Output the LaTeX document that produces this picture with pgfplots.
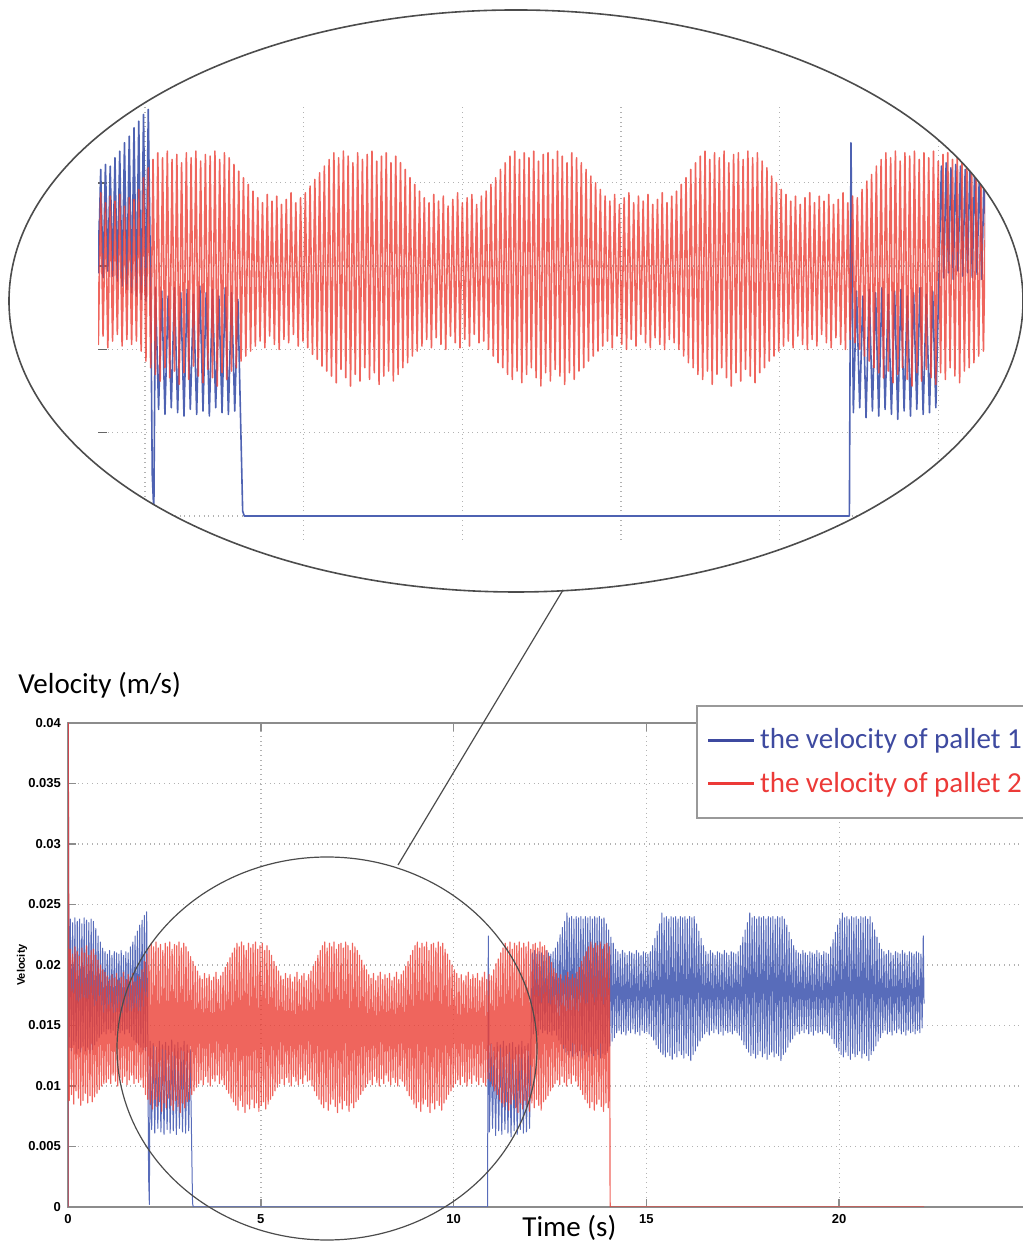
\documentclass[border=0pt]{standalone}
\usepackage{pgfplots}
\pgfplotsset{compat=1.18}
\usepackage{pgfplotstable}
\usepackage{fontspec}
\setmainfont{Carlito}
\newfontfamily\helv{Liberation Sans}
\definecolor{pblue}{RGB}{78,98,178}
\definecolor{mblue}{RGB}{88,108,186}
\definecolor{pred}{RGB}{235,62,52}
\definecolor{lblue}{RGB}{62,74,160}
\definecolor{lred}{RGB}{236,58,56}
\definecolor{axgray}{RGB}{140,140,140}

\pgfplotstableread[row sep=\\]{
t v\\
0 0\\ 0.006 40\\
0.03 8.8\\ 0.06 21.3\\ 0.09 9.3\\ 0.12 20.9\\ 0.15 8.5\\ 0.18 21.5\\ 0.21 9.6\\ 0.24 21.1\\ 0.27 9.0\\ 0.30 20.7\\
0.33 8.4\\ 0.36 21.4\\ 0.39 8.8\\ 0.42 21.0\\ 0.45 9.4\\ 0.48 21.6\\ 0.51 8.6\\ 0.54 20.8\\ 0.57 9.2\\ 0.60 21.2\\
0.63 8.7\\ 0.66 21.3\\ 0.69 9.1\\ 0.72 20.8\\ 0.75 9.4\\ 0.78 20.4\\ 0.81 9.7\\ 0.84 20.0\\ 0.87 10.0\\ 0.90 19.6\\
0.93 10.2\\ 0.96 19.4\\ 0.99 10.3\\ 1.02 19.1\\ 1.05 10.6\\ 1.08 18.8\\ 1.11 10.2\\ 1.14 19.2\\ 1.17 10.9\\ 1.20 18.9\\
1.23 10.4\\ 1.26 19.3\\ 1.29 10.0\\ 1.32 18.7\\ 1.35 10.7\\ 1.38 19.0\\ 1.41 10.3\\ 1.44 19.4\\ 1.47 10.8\\ 1.50 18.8\\
1.53 10.1\\ 1.56 19.2\\ 1.59 10.5\\ 1.62 18.9\\ 1.65 10.9\\ 1.68 19.3\\ 1.71 10.2\\ 1.74 18.6\\ 1.77 10.6\\ 1.80 19.1\\
1.83 10.3\\ 1.86 19.0\\ 1.89 10.5\\ 1.92 19.6\\ 1.95 9.9\\ 1.98 20.3\\ 2.01 9.3\\ 2.04 20.9\\ 2.07 8.9\\ 2.10 21.4\\
2.13 8.5\\ 2.16 21.8\\ 2.19 8.1\\ 2.22 21.5\\ 2.25 8.9\\ 2.28 21.9\\ 2.31 8.3\\ 2.34 21.4\\ 2.37 8.7\\ 2.40 21.7\\
2.43 7.9\\ 2.46 21.2\\ 2.49 8.6\\ 2.52 21.8\\ 2.55 8.2\\ 2.58 21.5\\ 2.61 9.0\\ 2.64 21.9\\ 2.67 8.4\\ 2.70 21.3\\
2.73 8.0\\ 2.76 21.7\\ 2.79 8.8\\ 2.82 21.6\\ 2.85 8.3\\ 2.88 21.9\\ 2.91 7.8\\ 2.94 21.4\\ 2.97 8.6\\ 3.00 21.8\\
3.03 8.2\\ 3.06 21.5\\ 3.09 8.7\\ 3.12 21.1\\ 3.15 8.9\\ 3.18 20.7\\ 3.21 9.3\\ 3.24 20.3\\ 3.27 9.6\\ 3.30 19.9\\
3.33 9.9\\ 3.36 19.5\\ 3.39 10.2\\ 3.42 19.1\\ 3.45 10.5\\ 3.48 18.8\\ 3.51 10.1\\ 3.54 19.3\\ 3.57 10.8\\ 3.60 18.9\\
3.63 10.3\\ 3.66 19.2\\ 3.69 10.0\\ 3.72 18.7\\ 3.75 10.6\\ 3.78 19.0\\ 3.81 10.4\\ 3.84 19.4\\ 3.87 10.9\\ 3.90 18.8\\
3.93 10.2\\ 3.96 19.1\\ 3.99 10.5\\ 4.02 19.4\\ 4.05 10.1\\ 4.08 19.8\\ 4.11 9.7\\ 4.14 20.2\\ 4.17 9.4\\ 4.20 20.6\\
4.23 9.0\\ 4.26 21.0\\ 4.29 8.7\\ 4.32 21.4\\ 4.35 8.4\\ 4.38 21.8\\ 4.41 8.0\\ 4.44 21.5\\ 4.47 8.8\\ 4.50 21.9\\
4.53 8.3\\ 4.56 21.6\\ 4.59 7.8\\ 4.62 21.2\\ 4.65 8.5\\ 4.68 21.8\\ 4.71 8.1\\ 4.74 21.4\\ 4.77 8.9\\ 4.80 21.7\\
4.83 8.2\\ 4.86 21.9\\ 4.89 8.6\\ 4.92 21.3\\ 4.95 7.9\\ 4.98 21.6\\ 5.01 8.4\\ 5.04 21.8\\ 5.07 8.7\\ 5.10 21.2\\
5.13 8.1\\ 5.16 21.6\\ 5.19 8.5\\ 5.22 21.2\\ 5.25 8.9\\ 5.28 20.8\\ 5.31 9.2\\ 5.34 20.3\\ 5.37 9.6\\ 5.40 19.9\\
5.43 9.9\\ 5.46 19.5\\ 5.49 10.2\\ 5.52 19.1\\ 5.55 10.6\\ 5.58 18.8\\ 5.61 10.1\\ 5.64 19.3\\ 5.67 10.7\\ 5.70 18.9\\
5.73 10.3\\ 5.76 19.2\\ 5.79 10.0\\ 5.82 18.6\\ 5.85 10.8\\ 5.88 19.0\\ 5.91 10.4\\ 5.94 19.4\\ 5.97 10.1\\ 6.00 18.8\\
6.03 10.6\\ 6.06 19.1\\ 6.09 10.2\\ 6.12 19.3\\ 6.15 10.9\\ 6.18 18.7\\ 6.21 10.4\\ 6.24 19.2\\ 6.27 10.5\\ 6.30 19.5\\
6.33 10.0\\ 6.36 19.9\\ 6.39 9.6\\ 6.42 20.3\\ 6.45 9.2\\ 6.48 20.8\\ 6.51 8.9\\ 6.54 21.2\\ 6.57 8.5\\ 6.60 21.6\\
6.63 8.2\\ 6.66 21.9\\ 6.69 8.7\\ 6.72 21.4\\ 6.75 8.0\\ 6.78 21.8\\ 6.81 8.5\\ 6.84 21.5\\ 6.87 8.9\\ 6.90 21.9\\
6.93 8.3\\ 6.96 21.3\\ 6.99 7.8\\ 7.02 21.7\\ 7.05 8.6\\ 7.08 21.8\\ 7.11 8.1\\ 7.14 21.4\\ 7.17 8.8\\ 7.20 21.9\\
7.23 8.4\\ 7.26 21.6\\ 7.29 7.9\\ 7.32 21.2\\ 7.35 8.6\\ 7.38 21.8\\ 7.41 8.2\\ 7.44 21.5\\ 7.47 8.7\\ 7.50 21.2\\
7.53 8.9\\ 7.56 20.8\\ 7.59 9.3\\ 7.62 20.4\\ 7.65 9.6\\ 7.68 20.0\\ 7.71 9.9\\ 7.74 19.6\\ 7.77 10.2\\ 7.80 19.2\\
7.83 10.5\\ 7.86 18.9\\ 7.89 10.1\\ 7.92 19.3\\ 7.95 10.8\\ 7.98 18.7\\ 8.01 10.3\\ 8.04 19.1\\ 8.07 10.0\\ 8.10 19.4\\
8.13 10.6\\ 8.16 18.8\\ 8.19 10.2\\ 8.22 19.2\\ 8.25 10.9\\ 8.28 18.9\\ 8.31 10.4\\ 8.34 19.3\\ 8.37 10.1\\ 8.40 18.7\\
8.43 10.7\\ 8.46 19.0\\ 8.49 10.3\\ 8.52 19.4\\ 8.55 10.0\\ 8.58 18.8\\ 8.61 10.6\\ 8.64 19.2\\ 8.67 10.4\\ 8.70 19.5\\
8.73 10.0\\ 8.76 19.9\\ 8.79 9.6\\ 8.82 20.3\\ 8.85 9.2\\ 8.88 20.8\\ 8.91 8.9\\ 8.94 21.2\\ 8.97 8.5\\ 9.00 21.6\\
9.03 8.2\\ 9.06 21.9\\ 9.09 8.7\\ 9.12 21.4\\ 9.15 7.9\\ 9.18 21.8\\ 9.21 8.5\\ 9.24 21.5\\ 9.27 8.9\\ 9.30 21.9\\
9.33 8.3\\ 9.36 21.2\\ 9.39 7.8\\ 9.42 21.7\\ 9.45 8.6\\ 9.48 21.8\\ 9.51 8.1\\ 9.54 21.4\\ 9.57 8.8\\ 9.60 21.9\\
9.63 8.4\\ 9.66 21.5\\ 9.69 8.0\\ 9.72 21.8\\ 9.75 8.6\\ 9.78 21.3\\ 9.81 8.9\\ 9.84 20.9\\ 9.87 9.3\\ 9.90 20.4\\
9.93 9.6\\ 9.96 20.0\\ 9.99 9.9\\ 10.02 19.6\\ 10.05 10.2\\ 10.08 19.3\\ 10.11 10.5\\ 10.14 18.9\\ 10.17 10.1\\ 10.20 19.2\\
10.23 10.8\\ 10.26 18.7\\ 10.29 10.3\\ 10.32 19.1\\ 10.35 10.0\\ 10.38 19.4\\ 10.41 10.6\\ 10.44 18.8\\ 10.47 10.2\\ 10.50 19.2\\
10.53 10.9\\ 10.56 18.9\\ 10.59 10.4\\ 10.62 19.3\\ 10.65 10.1\\ 10.68 18.7\\ 10.71 10.7\\ 10.74 19.0\\ 10.77 10.3\\ 10.80 19.4\\
10.83 10.0\\ 10.86 18.8\\ 10.89 10.6\\ 10.92 19.2\\ 10.95 10.4\\ 10.98 19.1\\ 11.01 10.0\\ 11.04 19.6\\ 11.07 9.6\\ 11.10 20.1\\
11.13 9.3\\ 11.16 20.5\\ 11.19 8.9\\ 11.22 21.0\\ 11.25 8.6\\ 11.28 21.4\\ 11.31 8.3\\ 11.34 21.8\\ 11.37 8.7\\ 11.40 21.5\\
11.43 8.0\\ 11.46 21.9\\ 11.49 8.5\\ 11.52 21.3\\ 11.55 8.9\\ 11.58 21.8\\ 11.61 8.2\\ 11.64 21.6\\ 11.67 7.8\\ 11.70 21.9\\
11.73 8.6\\ 11.76 21.4\\ 11.79 8.1\\ 11.82 21.8\\ 11.85 8.8\\ 11.88 21.5\\ 11.91 8.3\\ 11.94 21.9\\ 11.97 7.9\\ 12.00 21.3\\
12.03 8.6\\ 12.06 21.7\\ 12.09 8.2\\ 12.12 21.8\\ 12.15 8.9\\ 12.18 21.4\\ 12.21 8.4\\ 12.24 21.9\\ 12.27 8.0\\ 12.30 21.5\\
12.33 8.7\\ 12.36 21.6\\ 12.39 8.9\\ 12.42 21.2\\ 12.45 9.2\\ 12.48 20.7\\ 12.51 9.6\\ 12.54 20.2\\ 12.57 9.9\\ 12.60 19.7\\
12.63 10.2\\ 12.66 19.3\\ 12.69 10.5\\ 12.72 18.9\\ 12.75 10.1\\ 12.78 19.2\\ 12.81 10.8\\ 12.84 18.7\\ 12.87 10.3\\ 12.90 19.1\\
12.93 10.0\\ 12.96 19.4\\ 12.99 10.6\\ 13.02 18.8\\ 13.05 10.2\\ 13.08 19.2\\ 13.11 10.9\\ 13.14 18.9\\ 13.17 10.4\\ 13.20 19.4\\
13.23 10.0\\ 13.26 19.8\\ 13.29 9.7\\ 13.32 20.3\\ 13.35 9.3\\ 13.38 20.7\\ 13.41 8.9\\ 13.44 21.1\\ 13.47 8.6\\ 13.50 21.5\\
13.53 8.2\\ 13.56 21.9\\ 13.59 8.7\\ 13.62 21.4\\ 13.65 8.0\\ 13.68 21.8\\ 13.71 8.5\\ 13.74 21.6\\ 13.77 8.9\\ 13.80 21.9\\
13.83 8.3\\ 13.86 21.3\\ 13.89 7.9\\ 13.92 21.7\\ 13.95 8.6\\ 13.98 21.8\\ 14.01 8.2\\ 14.04 21.5\\
14.06 0\\ 22.20 0\\
}\redtab

\pgfplotstableread[row sep=\\]{
t v\\
0 0\\ 0.006 40\\
0.03 13.2\\ 0.06 23.8\\ 0.09 12.9\\ 0.12 23.5\\ 0.15 13.4\\ 0.18 23.9\\ 0.21 12.7\\ 0.24 23.6\\ 0.27 13.1\\ 0.30 23.8\\
0.33 12.8\\ 0.36 23.4\\ 0.39 13.3\\ 0.42 23.9\\ 0.45 12.9\\ 0.48 23.7\\ 0.51 13.2\\ 0.54 23.5\\ 0.57 12.7\\ 0.60 23.8\\
0.63 13.0\\ 0.66 23.6\\ 0.69 13.4\\ 0.72 23.0\\ 0.75 13.7\\ 0.78 22.4\\ 0.81 14.0\\ 0.84 21.9\\ 0.87 14.3\\ 0.90 21.4\\
0.93 14.5\\ 0.96 21.1\\ 0.99 14.3\\ 1.02 20.9\\ 1.05 14.7\\ 1.08 21.2\\ 1.11 14.4\\ 1.14 20.8\\ 1.17 14.6\\ 1.20 21.1\\
1.23 14.2\\ 1.26 21.0\\ 1.29 14.8\\ 1.32 20.9\\ 1.35 14.4\\ 1.38 21.2\\ 1.41 14.6\\ 1.44 20.8\\ 1.47 14.3\\ 1.50 21.1\\
1.53 14.7\\ 1.56 21.0\\ 1.59 14.4\\ 1.62 21.5\\ 1.65 14.1\\ 1.68 21.9\\ 1.71 13.8\\ 1.74 22.4\\ 1.77 13.6\\ 1.80 22.8\\
1.83 13.4\\ 1.86 23.3\\ 1.89 13.2\\ 1.92 23.7\\ 1.95 13.0\\ 1.98 24.1\\ 2.01 12.9\\ 2.04 24.4\\ 2.07 13.6\\ 2.09 2.5\\ 2.11 0.2\\ 2.13 13.7\\
2.17 6.4\\ 2.21 13.5\\ 2.25 6.1\\ 2.29 13.2\\ 2.33 6.5\\ 2.37 13.7\\ 2.41 6.2\\ 2.45 13.4\\ 2.49 6.0\\ 2.53 13.6\\
2.57 6.4\\ 2.61 13.3\\ 2.65 6.1\\ 2.69 13.8\\ 2.73 6.3\\ 2.77 13.4\\ 2.81 6.0\\ 2.85 13.6\\ 2.89 6.5\\ 2.93 13.2\\
2.97 6.2\\ 3.01 13.7\\ 3.05 6.1\\ 3.09 13.4\\ 3.13 6.3\\ 3.17 13.0\\ 3.20 6.6\\ 3.23 0.3\\ 3.25 0\\
10.88 0\\ 10.90 22.4\\
10.93 6.2\\ 10.97 13.5\\ 11.01 6.5\\ 11.05 13.2\\ 11.09 5.9\\ 11.13 13.6\\ 11.17 6.3\\ 11.21 13.4\\ 11.25 6.0\\ 11.29 13.7\\
11.33 6.4\\ 11.37 13.3\\ 11.41 6.1\\ 11.45 13.5\\ 11.49 5.8\\ 11.53 13.6\\ 11.57 6.3\\ 11.61 13.2\\ 11.65 6.0\\ 11.69 13.4\\
11.73 6.4\\ 11.77 13.7\\ 11.81 6.1\\ 11.85 13.3\\ 11.89 6.2\\ 11.93 13.5\\ 11.97 6.5\\
12.01 14.5\\ 12.04 21.0\\ 12.07 14.3\\ 12.10 21.2\\ 12.13 14.6\\ 12.16 20.9\\ 12.19 14.2\\ 12.22 21.1\\ 12.25 14.7\\ 12.28 21.0\\
12.31 14.4\\ 12.34 20.8\\ 12.37 14.6\\ 12.40 21.2\\ 12.43 14.3\\ 12.46 21.0\\ 12.49 14.5\\ 12.52 20.9\\ 12.55 14.2\\ 12.58 21.1\\
12.61 14.6\\ 12.64 21.4\\ 12.67 14.2\\ 12.70 21.9\\ 12.73 13.8\\ 12.76 22.5\\ 12.79 13.5\\ 12.82 23.1\\ 12.85 13.1\\ 12.88 23.6\\
12.91 12.8\\ 12.94 24.3\\ 12.97 12.6\\ 13.00 23.9\\ 13.03 12.9\\ 13.06 24.0\\ 13.09 12.4\\ 13.12 23.8\\ 13.15 12.7\\ 13.18 24.0\\
13.21 12.5\\ 13.24 23.9\\ 13.27 12.9\\ 13.30 24.0\\ 13.33 12.3\\ 13.36 23.8\\ 13.39 12.6\\ 13.42 24.0\\ 13.45 12.8\\ 13.48 23.9\\
13.51 12.4\\ 13.54 24.0\\ 13.57 12.7\\ 13.60 23.8\\ 13.63 12.5\\ 13.66 24.0\\ 13.69 12.9\\ 13.72 23.9\\ 13.75 12.6\\ 13.78 24.0\\
13.81 12.3\\ 13.84 23.8\\ 13.87 12.7\\ 13.90 23.9\\ 13.93 12.6\\ 13.96 23.4\\ 13.99 12.9\\ 14.02 22.9\\ 14.05 13.3\\ 14.08 22.3\\
14.11 13.7\\ 14.14 21.8\\ 14.17 14.0\\ 14.20 21.3\\ 14.23 14.4\\ 14.26 21.1\\ 14.29 14.6\\ 14.32 20.9\\ 14.35 14.3\\ 14.38 21.2\\
14.41 14.5\\ 14.44 21.0\\ 14.47 14.2\\ 14.50 20.8\\ 14.53 14.6\\ 14.56 21.1\\ 14.59 14.4\\ 14.62 21.0\\ 14.65 14.7\\ 14.68 20.9\\
14.71 14.3\\ 14.74 21.2\\ 14.77 14.5\\ 14.80 21.0\\ 14.83 14.2\\ 14.86 20.8\\ 14.89 14.6\\ 14.92 21.1\\ 14.95 14.4\\ 14.98 21.0\\
15.01 14.5\\ 15.04 20.9\\ 15.07 14.3\\ 15.10 21.1\\ 15.13 14.1\\ 15.16 21.6\\ 15.19 13.8\\ 15.22 22.2\\ 15.25 13.4\\ 15.28 22.8\\
15.31 13.1\\ 15.34 23.4\\ 15.37 12.8\\ 15.40 24.3\\ 15.43 12.6\\ 15.46 23.9\\ 15.49 12.4\\ 15.52 24.0\\ 15.55 12.8\\ 15.58 23.8\\
15.61 12.5\\ 15.64 24.0\\ 15.67 12.2\\ 15.70 23.9\\ 15.73 12.7\\ 15.76 24.0\\ 15.79 12.4\\ 15.82 23.8\\ 15.85 12.9\\ 15.88 24.0\\
15.91 12.6\\ 15.94 23.9\\ 15.97 12.3\\ 16.00 24.0\\ 16.03 12.7\\ 16.06 23.8\\ 16.09 12.5\\ 16.12 24.0\\ 16.15 12.1\\ 16.18 23.9\\
16.21 12.6\\ 16.24 24.0\\ 16.27 12.9\\ 16.30 23.4\\ 16.33 13.3\\ 16.36 22.8\\ 16.39 13.7\\ 16.42 22.2\\ 16.45 14.0\\ 16.48 21.6\\
16.51 14.3\\ 16.54 21.1\\ 16.57 14.5\\ 16.60 20.9\\ 16.63 14.2\\ 16.66 21.2\\ 16.69 14.6\\ 16.72 21.0\\ 16.75 14.4\\ 16.78 20.8\\
16.81 14.7\\ 16.84 21.1\\ 16.87 14.3\\ 16.90 21.0\\ 16.93 14.5\\ 16.96 20.9\\ 16.99 14.2\\ 17.02 21.2\\ 17.05 14.6\\ 17.08 21.0\\
17.11 14.4\\ 17.14 20.8\\ 17.17 14.5\\ 17.20 21.1\\ 17.23 14.3\\ 17.26 21.0\\ 17.29 14.6\\ 17.32 20.9\\ 17.35 14.4\\ 17.38 21.1\\
17.41 14.2\\ 17.44 21.6\\ 17.47 13.8\\ 17.50 22.3\\ 17.53 13.4\\ 17.56 22.9\\ 17.59 13.1\\ 17.62 23.5\\ 17.65 12.8\\ 17.68 24.3\\
17.71 12.5\\ 17.74 23.9\\ 17.77 12.7\\ 17.80 24.0\\ 17.83 12.3\\ 17.86 23.8\\ 17.89 12.6\\ 17.92 24.0\\ 17.95 12.9\\ 17.98 23.9\\
18.01 12.4\\ 18.04 24.0\\ 18.07 12.7\\ 18.10 23.8\\ 18.13 12.2\\ 18.16 24.0\\ 18.19 12.6\\ 18.22 23.9\\ 18.25 12.8\\ 18.28 24.0\\
18.31 12.4\\ 18.34 23.8\\ 18.37 12.7\\ 18.40 24.0\\ 18.43 12.5\\ 18.46 23.9\\ 18.49 12.1\\ 18.52 24.0\\ 18.55 12.6\\ 18.58 23.8\\
18.61 12.8\\ 18.64 23.3\\ 18.67 13.2\\ 18.70 22.7\\ 18.73 13.6\\ 18.76 22.1\\ 18.79 13.9\\ 18.82 21.6\\ 18.85 14.2\\ 18.88 21.2\\
18.91 14.5\\ 18.94 21.0\\ 18.97 14.3\\ 19.00 20.9\\ 19.03 14.6\\ 19.06 21.2\\ 19.09 14.4\\ 19.12 21.0\\ 19.15 14.7\\ 19.18 20.8\\
19.21 14.3\\ 19.24 21.1\\ 19.27 14.5\\ 19.30 21.0\\ 19.33 14.2\\ 19.36 20.9\\ 19.39 14.6\\ 19.42 21.2\\ 19.45 14.4\\ 19.48 21.0\\
19.51 14.5\\ 19.54 20.8\\ 19.57 14.3\\ 19.60 21.1\\ 19.63 14.6\\ 19.66 21.0\\ 19.69 14.4\\ 19.72 20.9\\ 19.75 14.2\\ 19.78 21.5\\
19.81 13.9\\ 19.84 22.1\\ 19.87 13.5\\ 19.90 22.7\\ 19.93 13.2\\ 19.96 23.3\\ 19.99 12.9\\ 20.02 23.8\\ 20.05 12.6\\ 20.08 24.3\\
20.11 12.4\\ 20.14 23.9\\ 20.17 12.8\\ 20.20 24.0\\ 20.23 12.5\\ 20.26 23.8\\ 20.29 12.2\\ 20.32 24.0\\ 20.35 12.7\\ 20.38 23.9\\
20.41 12.4\\ 20.44 24.0\\ 20.47 12.6\\ 20.50 23.8\\ 20.53 12.9\\ 20.56 24.0\\ 20.59 12.3\\ 20.62 23.9\\ 20.65 12.7\\ 20.68 24.0\\
20.71 12.5\\ 20.74 23.8\\ 20.77 12.1\\ 20.80 24.0\\ 20.83 12.6\\ 20.86 23.5\\ 20.89 12.9\\ 20.92 22.9\\ 20.95 13.3\\ 20.98 22.3\\
21.01 13.7\\ 21.04 21.8\\ 21.07 14.0\\ 21.10 21.3\\ 21.13 14.4\\ 21.16 21.1\\ 21.19 14.6\\ 21.22 20.9\\ 21.25 14.3\\ 21.28 21.2\\
21.31 14.5\\ 21.34 21.0\\ 21.37 14.2\\ 21.40 20.8\\ 21.43 14.6\\ 21.46 21.1\\ 21.49 14.4\\ 21.52 21.0\\ 21.55 14.7\\ 21.58 20.9\\
21.61 14.3\\ 21.64 21.2\\ 21.67 14.5\\ 21.70 21.0\\ 21.73 14.2\\ 21.76 20.8\\ 21.79 14.6\\ 21.82 21.1\\ 21.85 14.4\\ 21.88 21.0\\
21.91 14.5\\ 21.94 20.9\\ 21.97 14.3\\ 22.00 21.1\\ 22.03 14.6\\ 22.06 21.0\\ 22.09 14.4\\ 22.12 20.9\\ 22.15 14.8\\ 22.18 22.4\\
22.20 16.8\\
}\bluetab

\begin{document}
\begin{tikzpicture}
\useasboundingbox (0pt,0pt) rectangle (511pt,622.5pt);

% ---------------- main axis ----------------
\begin{axis}[
  at={(34pt,19pt)}, anchor=south west,
  scale only axis, width=482pt, height=242pt,
  xmin=0, xmax=25, ymin=0, ymax=40,
  xtick={0,5,10,15,20}, ytick={0,5,...,40},
  yticklabels={0,0.005,0.01,0.015,0.02,0.025,0.03,0.035,0.04},
  grid=major, grid style={dotted, gray!60, line width=0.7pt},
  axis line style={axgray, line width=0.8pt},
  tick align=inside, major tick length=4pt,
  tick style={axgray, line width=0.8pt},
  ticklabel style={font=\helv\bfseries\fontsize{6.5}{7}\selectfont},
  /pgf/number format/assume math mode=true,
  ylabel={Velocity},
  ylabel style={font=\helv\bfseries\fontsize{5.5}{6}\selectfont, at={(axis description cs:-0.0477,0.5)}, anchor=center},
  xlabel={Time (s)},
  xlabel style={font=\fontsize{14.5}{16}\selectfont, inner sep=0pt, at={(axis description cs:0.471,0)}, anchor=base west, yshift=-14.5pt},
  legend image code/.code={\draw[#1] (0pt,0pt) -- (23pt,0pt);},
  legend cell align=left,
  legend style={at={(0.6515,1.0372)}, anchor=north west, draw=gray!80, line width=0.8pt, fill=white,
    font=\fontsize{14.5}{16}\selectfont, inner xsep=5pt, inner ysep=9.5pt, row sep=6pt},
]
\addplot[mblue, line width=0.5pt, line join=round, forget plot] table[x=t,y=v]{\bluetab};
\addplot[pred, line width=0.6pt, line join=round, draw opacity=0.8, forget plot] table[x=t,y=v]{\redtab};
\addlegendimage{lblue, line width=1.6pt}
\addlegendentry{\textcolor{lblue}{the velocity of pallet 1}}
\addlegendimage{lred, line width=1.6pt}
\addlegendentry{\textcolor{lred}{the velocity of pallet 2}}
\end{axis}

\node[anchor=base west, font=\fontsize{14.5}{16}\selectfont, inner sep=0pt] at (9pt,275.5pt) {Velocity (m/s)};

% ---------------- zoomed inset ----------------
\begin{scope}
\clip (258pt,472pt) ellipse [x radius=253.5pt, y radius=145.5pt];
\begin{axis}[
  at={(49pt,352.5pt)}, anchor=south west,
  scale only axis, width=443.5pt, height=217.5pt,
  xmin=1.406, xmax=12.59, ymin=-1.44, ymax=24.67,
  xtick={2,4,...,12}, ytick={0,5,...,20},
  xticklabels={}, yticklabels={},
  grid=major, grid style={dotted, gray!60, line width=0.7pt},
  axis line style={draw=none},
  tick align=inside, ytick pos=left,
  xtick style={draw=none}, ytick style={black!60, line width=0.8pt},
  major tick length=4.5pt,
]
\addplot[pblue, line width=0.8pt, line join=round] table[x=t,y=v]{\bluetab};
\addplot[pred, line width=0.8pt, line join=round, draw opacity=0.8] table[x=t,y=v]{\redtab};
\end{axis}
\end{scope}
\draw[black!70, line width=0.8pt] (258pt,472pt) ellipse [x radius=253.5pt, y radius=145.5pt];
\draw[black!70, line width=0.6pt] (163.5pt,98.25pt) ellipse [x radius=105pt, y radius=95.75pt];
\draw[black!70, line width=0.6pt] (281.5pt,327.5pt) -- (199pt,190pt);
\end{tikzpicture}
\end{document}
